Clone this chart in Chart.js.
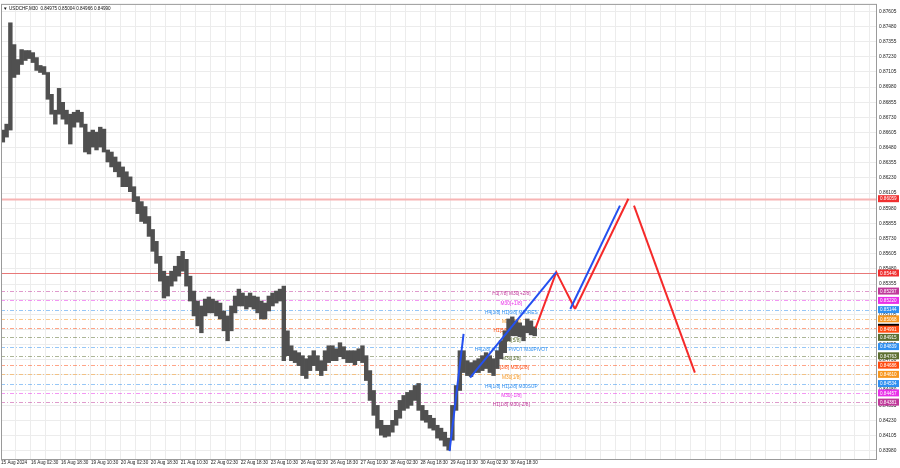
<!DOCTYPE html>
<html><head><meta charset="utf-8">
<script src="https://cdn.jsdelivr.net/npm/chart.js@4/dist/chart.umd.min.js"></script>
<style>html,body{margin:0;padding:0;background:#fff}#wrap{width:900px;height:468px;position:relative}</style>
</head><body><div id="wrap"><canvas id="c" width="900" height="468"></canvas></div>
<script>
// ---- DATA ----
const timeLabels = ['15 Aug 2024','16 Aug 02:30','16 Aug 18:30','19 Aug 10:30','20 Aug 02:30','20 Aug 18:30','21 Aug 10:30','22 Aug 02:30','22 Aug 18:30','23 Aug 10:30','26 Aug 02:30','26 Aug 18:30','27 Aug 10:30','28 Aug 02:30','28 Aug 18:30','29 Aug 10:30','30 Aug 02:30','30 Aug 18:30'];
const priceTicks = [0.87605,0.87480,0.87355,0.87230,0.87105,0.86980,0.86855,0.86730,0.86605,0.86480,0.86355,0.86230,0.86105,0.85980,0.85855,0.85730,0.85605,0.85480,0.85355,0.85230,0.85105,0.84980,0.84855,0.84730,0.84605,0.84480,0.84355,0.84230,0.84105,0.83980];
// price range per group of 4 M30 bars (high / low)
const highs = [0.86625,0.86674,0.87510,0.87330,0.87207,0.87289,0.87281,0.87281,0.87264,0.87223,0.87158,0.87149,0.87100,0.86920,0.86789,0.86969,0.86854,0.86789,0.86756,0.86772,0.86789,0.86772,0.86674,0.86608,0.86625,0.86608,0.86649,0.86633,0.86461,0.86444,0.86403,0.86362,0.86321,0.86281,0.86239,0.86158,0.86076,0.86035,0.85994,0.85912,0.85805,0.85707,0.85584,0.85461,0.85420,0.85461,0.85502,0.85584,0.85625,0.85559,0.85420,0.85297,0.85215,0.85174,0.85231,0.85248,0.85231,0.85215,0.85198,0.85133,0.85092,0.85174,0.85256,0.85313,0.85281,0.85256,0.85281,0.85256,0.85248,0.85215,0.85198,0.85256,0.85281,0.85297,0.85313,0.85338,0.84969,0.84846,0.84805,0.84789,0.84764,0.84739,0.84764,0.84805,0.84764,0.84723,0.84805,0.84846,0.84846,0.84821,0.84871,0.84838,0.84805,0.84805,0.84805,0.84821,0.84846,0.84764,0.84641,0.84477,0.84354,0.84231,0.84190,0.84190,0.84231,0.84313,0.84395,0.84436,0.84461,0.84477,0.84518,0.84535,0.84354,0.84313,0.84272,0.84248,0.84190,0.84166,0.84133,0.84084,0.84354,0.84518,0.84805,0.84805,0.84723,0.84707,0.84723,0.84739,0.84764,0.84789,0.84764,0.84739,0.84805,0.84887,0.84969,0.85067,0.85084,0.85051,0.85035,0.85010,0.85067,0.85051,0.85002];
const lows = [0.86526,0.86567,0.86625,0.87059,0.87084,0.87166,0.87199,0.87215,0.87182,0.87117,0.87100,0.87084,0.86879,0.86756,0.86674,0.86756,0.86715,0.86674,0.86510,0.86649,0.86690,0.86649,0.86444,0.86428,0.86485,0.86461,0.86485,0.86444,0.86362,0.86321,0.86281,0.86239,0.86158,0.86158,0.86117,0.86035,0.85936,0.85871,0.85855,0.85748,0.85625,0.85526,0.85379,0.85240,0.85256,0.85338,0.85379,0.85420,0.85461,0.85338,0.85215,0.85092,0.85010,0.84953,0.85092,0.85117,0.85117,0.85092,0.85067,0.84969,0.84887,0.84969,0.85117,0.85174,0.85174,0.85149,0.85166,0.85149,0.85117,0.85067,0.85067,0.85133,0.85174,0.85198,0.85215,0.84723,0.84764,0.84723,0.84707,0.84682,0.84600,0.84576,0.84641,0.84682,0.84641,0.84600,0.84641,0.84707,0.84723,0.84723,0.84756,0.84739,0.84707,0.84707,0.84690,0.84723,0.84707,0.84559,0.84395,0.84272,0.84166,0.84108,0.84092,0.84100,0.84133,0.84190,0.84248,0.84313,0.84330,0.84354,0.84395,0.84313,0.84231,0.84215,0.84166,0.84150,0.84084,0.84067,0.84018,0.83985,0.84067,0.84313,0.84477,0.84625,0.84600,0.84592,0.84625,0.84625,0.84641,0.84658,0.84625,0.84600,0.84658,0.84739,0.84789,0.84887,0.84928,0.84928,0.84920,0.84887,0.84953,0.84936,0.84928];
const BARS_PER_GROUP = 4;

// Murrey-type levels
const levelValues = [0.86059,0.85446,0.85297,0.85220,0.85144,0.85068,0.84991,0.84915,0.84839,0.84763,0.84686,0.84610,0.84534,0.84457,0.84381];
const levelNames  = ['','','H1[7/8] M30[+2/8]','M30[+1/8]','H4[3/8] H1[6/8] M30RES','M30[7/8]','H1[5/8] M30[6/8]','M30[5/8]','H4[2/8] H1[4/8] PIVOT M30PIVOT','M30[3/8]','H1[3/8] M30[2/8]','M30[1/8]','H4[1/8] H1[2/8] M30SUP','M30[-1/8]','H1[1/8] M30[-2/8]'];
const levelColors = ['#f03030','#f03030','#c0389a','#e830e8','#2f8ff0','#f7961e','#ff4a10','#5c6e30','#2f8ff0','#5c6e30','#ff4a10','#f7961e','#2f8ff0','#e830e8','#c0389a'];

// forecast paths: [bar index, price]
const blueLegs = [
  [[479,0.83977],[494,0.84944]],
  [[501,0.84584],[593,0.85453]],
  [[608,0.85149],[661,0.86002]]
];
const redLegs = [
  [[571,0.84994],[593,0.85453],[613,0.85149]],
  [[613,0.85149],[670,0.86059]],
  [[676,0.86002],[741,0.84625]]
];
const lastPrice = 0.84990;
const titleText = 'USDCHF,M30  0.84975 0.85004 0.84966 0.84990';

// ---- CHART ----
const FONT = 'Liberation Sans, Arial, sans-serif';
const datasets = [{
  type:'bar',
  data: highs.map((h,i)=>({x:i*BARS_PER_GROUP+BARS_PER_GROUP/2, y:[lows[i],h]})),
  backgroundColor:'#505050', borderWidth:0, barThickness:3.75, grouped:false, order:3
}];
blueLegs.forEach(l=>datasets.push({type:'line',data:l.map(p=>({x:p[0],y:p[1]})),borderColor:'#2450f0',borderWidth:2,pointRadius:0,order:1}));
redLegs.forEach(l=>datasets.push({type:'line',data:l.map(p=>({x:p[0],y:p[1]})),borderColor:'#f52a2a',borderWidth:2,pointRadius:0,order:1}));

const levelsPlugin = {
  id:'levels',
  beforeDatasetsDraw(chart){
    const {ctx, chartArea:a, scales:{x,y}} = chart;
    ctx.save();
    levelValues.forEach((v,i)=>{
      const py = Math.round(y.getPixelForValue(v))+0.5;
      ctx.beginPath();
      if(i<2){ ctx.setLineDash([]); ctx.strokeStyle = i===0?'#f7b4b4':'#e87878'; ctx.lineWidth = i===0?2:1; }
      else { ctx.setLineDash([4,2,1,2]); ctx.strokeStyle = levelColors[i]; ctx.globalAlpha=0.5; ctx.lineWidth=1; }
      ctx.moveTo(a.left,py); ctx.lineTo(a.right,py); ctx.stroke();
      ctx.globalAlpha=1;
    });
    ctx.setLineDash([]);
    ctx.font = '4.8px '+FONT; ctx.textAlign='center'; ctx.textBaseline='middle';
    const cx = x.getPixelForValue(545);
    levelValues.forEach((v,i)=>{
      if(!levelNames[i]) return;
      ctx.fillStyle = levelColors[i];
      ctx.fillText(levelNames[i], cx, y.getPixelForValue(v)+3);
    });
    ctx.restore();
  },
  afterDraw(chart){
    const {ctx, chartArea:a, scales:{x,y}} = chart;
    ctx.save();
    ctx.strokeStyle='#9a9a9a'; ctx.lineWidth=1;
    ctx.strokeRect(a.left+0.5,a.top-0.5,a.right-a.left-1,a.bottom-a.top+1);
    ctx.font='4.6px '+FONT; ctx.textBaseline='middle'; ctx.textAlign='left';
    const boxX = a.right+1, boxW = 21, boxH = 7;
    const lp = y.getPixelForValue(lastPrice);
    ctx.fillStyle='#000'; ctx.fillRect(boxX, lp-boxH/2-1, boxW, boxH);
    levelValues.forEach((v,i)=>{
      const py = y.getPixelForValue(v);
      const off = i===6?1:0;
      ctx.fillStyle = levelColors[i];
      ctx.fillRect(boxX, py-boxH/2+off, boxW, boxH);
      ctx.fillStyle = '#fff';
      ctx.fillText(v.toFixed(5), boxX+2, py+0.5+off);
    });
    ctx.fillStyle='#111'; ctx.font='4.6px '+FONT; ctx.textBaseline='middle';
    ctx.fillText('\u25BC', a.left+2, a.top+4);
    ctx.fillText(titleText, a.left+8, a.top+4);
    ctx.restore();
  }
};

new Chart(document.getElementById('c'), {
  data:{datasets},
  options:{
    responsive:false, animation:false, events:[],
    layout:{padding:{top:2,left:0,right:0,bottom:0}},
    plugins:{legend:{display:false},tooltip:{enabled:false}},
    scales:{
      x:{type:'linear', min:0, max:935.5, offset:false, position:'bottom',
        grid:{color:'#ececec', drawTicks:false, offset:false}, border:{display:false},
        afterBuildTicks:s=>{ const t=[]; for(let v=0; v<=935; v+=16) t.push({value:v}); s.ticks=t; },
        ticks:{autoSkip:false, maxRotation:0, minRotation:0, align:'start', padding:1, color:'#222', font:{size:4.6,family:FONT},
          callback:(v)=> (v%32===0 && timeLabels[v/32]) ? timeLabels[v/32] : ''},
        afterFit:s=>{ s.height=9; }
      },
      y:{type:'linear', position:'right', min:0.839118, max:0.876577,
        grid:{color:'#ececec', drawTicks:false}, border:{display:false},
        afterBuildTicks:s=>{ s.ticks = priceTicks.map(v=>({value:v})); },
        ticks:{autoSkip:false, padding:2, color:'#222', font:{size:4.8,family:FONT}, callback:v=>v.toFixed(5)},
        afterFit:s=>{ s.width=23; }
      }
    }
  },
  plugins:[levelsPlugin]
});
</script></body></html>
